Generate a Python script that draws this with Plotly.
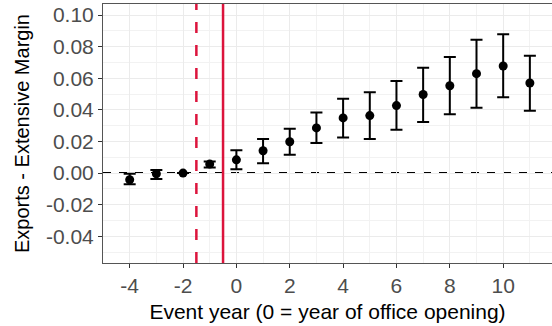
import plotly.graph_objects as go

event_year = [-4, -3, -2, -1, 0, 1, 2, 3, 4, 5, 6, 7, 8, 9, 10, 11]
estimate = [-0.0042, -0.0004, 0.0, 0.0057, 0.0084, 0.0141, 0.0198, 0.0286, 0.0349, 0.0364,
            0.0427, 0.0497, 0.0553, 0.0629, 0.0678, 0.0570]
ci_high = [-0.0004, 0.0020, 0.0, 0.0073, 0.0145, 0.0215, 0.0280, 0.0383, 0.0471, 0.0512,
           0.0583, 0.0667, 0.0735, 0.0843, 0.0878, 0.0743]
ci_low = [-0.0070, -0.0038, 0.0, 0.0035, 0.0025, 0.0063, 0.0116, 0.0190, 0.0225, 0.0215,
          0.0275, 0.0324, 0.0373, 0.0413, 0.0480, 0.0395]
x_ticks = [-4, -2, 0, 2, 4, 6, 8, 10]
x_tick_labels = ["-4", "-2", "0", "2", "4", "6", "8", "10"]
y_ticks = [-0.04, -0.02, 0.0, 0.02, 0.04, 0.06, 0.08, 0.10]
y_tick_labels = ["-0.04", "-0.02", "0.00", "0.02", "0.04", "0.06", "0.08", "0.10"]
dashed_vline = -1.5
solid_vline = -0.5

err_plus = [h - e for h, e in zip(ci_high, estimate)]
err_minus = [e - l for e, l in zip(estimate, ci_low)]

red = "#DC143C"
fig = go.Figure()
fig.add_trace(go.Scatter(
    x=event_year, y=estimate, mode="markers",
    marker=dict(color="black", size=9),
    error_y=dict(type="data", symmetric=False, array=err_plus, arrayminus=err_minus,
                 color="black", thickness=2, width=6),
    showlegend=False,
))
fig.add_hline(y=0, line=dict(color="black", width=2, dash="8px,8px"), layer="below")
fig.add_vline(x=dashed_vline, line=dict(color=red, width=2.5, dash="11px,12px"))
fig.add_vline(x=solid_vline, line=dict(color=red, width=2.5))

fig.update_layout(
    width=552, height=326,
    margin=dict(l=103, r=0, t=4, b=63),
    paper_bgcolor="white", plot_bgcolor="white",
    font=dict(family="Liberation Sans, Arial, sans-serif", color="black"),
)
fig.update_xaxes(
    range=[-5.0, 11.83], tickvals=x_ticks, ticktext=x_tick_labels, ticks="outside",
    ticklen=4, tickcolor="#333333", automargin=True,
    tickfont=dict(size=21, color="#4D4D4D"),
    showgrid=True, gridcolor="#EBEBEB", gridwidth=1.3,
    minor=dict(dtick=1, tick0=0, showgrid=True, gridcolor="#F2F2F2", gridwidth=0.8),
    showline=True, linecolor="#555555", linewidth=1, mirror=True, zeroline=False,
    title=dict(text="Event year (0 = year of office opening)", font=dict(size=21), standoff=8),
)
fig.update_yaxes(
    range=[-0.0569, 0.107], tickvals=y_ticks, ticktext=y_tick_labels, ticks="outside",
    ticklen=4, tickcolor="#333333", automargin=True,
    tickfont=dict(size=21, color="#4D4D4D"),
    showgrid=True, gridcolor="#EBEBEB", gridwidth=1.3,
    minor=dict(dtick=0.01, tick0=0, showgrid=True, gridcolor="#F2F2F2", gridwidth=0.8),
    showline=True, linecolor="#555555", linewidth=1, mirror=True, zeroline=False,
    title=dict(text="Exports - Extensive Margin", font=dict(size=20), standoff=10),
)
fig.write_html("out.html", config={"displayModeBar": False},
               post_script="document.body.style.margin='0';")
